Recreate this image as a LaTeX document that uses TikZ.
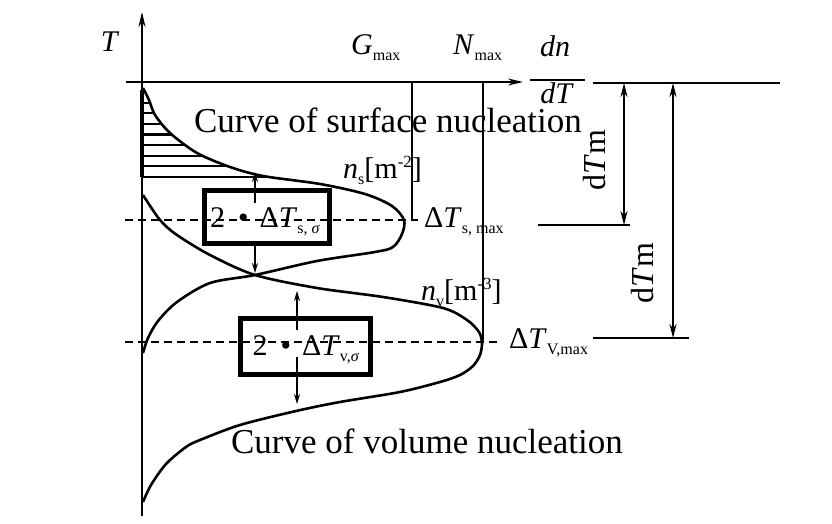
\documentclass[tikz,border=0pt]{standalone}
\usepackage{fontspec}
\setmainfont{Liberation Serif}
\usetikzlibrary{arrows.meta}
\newcommand{\lowtext}[1]{\raisebox{-6pt}{\fontsize{16}{18}\selectfont #1}}
\newcommand{\hightext}[1]{\raisebox{11pt}{\fontsize{17}{19}\selectfont #1}}
\newcommand{\symfont}{\fontsize{30}{34}\selectfont}

\begin{document}
\begin{tikzpicture}[x=1pt,y=-1pt,
  axis/.style={line width=2pt,-{Stealth[length=15pt,width=7pt]}},
  rule/.style={line width=2pt},
  curve/.style={line width=2.6pt},
  guide/.style={line width=1.6pt,dash pattern=on 8pt off 5pt},
  dim/.style={line width=2pt,{Stealth[length=14pt,width=7pt]}-{Stealth[length=14pt,width=7pt]}},
  arr/.style={line width=1.6pt,-{Stealth[length=10pt,width=6pt]}},
  frame/.style={draw,line width=5pt,inner sep=0pt},
  sym/.style={font=\symfont,inner sep=0pt},
  title/.style={font=\fontsize{35}{40}\selectfont,inner sep=0pt}]
  \useasboundingbox (0,0) rectangle (832,524);
  % axes
  \coordinate (Tbot) at (142,516);
  \coordinate (Ttop) at (142,12);
  \coordinate (xl)   at (126,82);
  \coordinate (xr)   at (523,82);
  \draw[axis] (Tbot) -- (Ttop);
  \draw[axis] (xl) -- (xr);
  \node[sym]                  (T)  at (110,42)  {\textit{T}};
  \node[sym,anchor=base west] (G)  at (351,55)  {\textit{G}\lowtext{max}};
  \node[sym,anchor=base west] (N)  at (453,55)  {\textit{N}\lowtext{max}};
  \node[sym,anchor=base]      (dn) at (555,57)  {\textit{dn}};
  \node[sym,anchor=base]      (dT) at (557,104) {\textit{dT}};
  \coordinate (barL) at (530,80);
  \coordinate (barR) at (585,80);
  \draw[rule] (barL) -- (barR);
  % hatched part under the surface curve
  \begin{scope}
    \clip plot[smooth] coordinates {(143,88) (149,100) (155,115) (170,133) (197,153) (230,167) (263,176) (320,184) (365,194) (392,206) (404,220) (402,234) (393,247) (375,252) (317,261) (255,275) (210,283) (177,302) (158,321) (148,338) (143,353)} -- cycle;
    \foreach \y in {103,113.5,...,177}
      \draw[rule] (130,\y) -- (320,\y);
  \end{scope}
  \draw[line width=4pt] (142,90) -- (142,177);
  % the two curves
  \draw[curve] plot[smooth] coordinates {(143,88) (149,100) (155,115) (170,133) (197,153) (230,167) (263,176) (320,184) (365,194) (392,206) (404,220) (402,234) (393,247) (375,252) (317,261) (255,275) (210,283) (177,302) (158,321) (148,338) (143,353)};
  \draw[curve] plot[smooth] coordinates {(143,195) (160,220) (177,235) (210,255) (255,275) (317,288) (383,297) (443,308) (467,320) (479,332) (482,343) (480,355) (473,366) (460,375) (440,382) (400,392) (340,402) (296,411) (240,425) (200,440) (186,447) (166,464) (151,485) (143,502)};
  \node[title,anchor=base] (surf) at (388,132) {Curve of surface nucleation};
  \node[title,anchor=base] (vol)  at (427,453) {Curve of volume nucleation};
  % maxima
  \coordinate (Gtop) at (412,82);
  \coordinate (Gbot) at (412,220);
  \coordinate (Gend) at (418,220);
  \coordinate (Ntop) at (483,82);
  \coordinate (Nbot) at (483,342);
  \draw[rule] (Gtop) -- (Gbot) -- (Gend);
  \draw[rule] (Ntop) -- (Nbot);
  \coordinate (sL) at (125,220);
  \coordinate (vL) at (125,342);
  \coordinate (vR) at (497,342);
  \draw[guide] (sL) -- (Gend);
  \draw[guide] (vL) -- (vR);
  \node[sym,anchor=base west] (ns)  at (343,178) {\textit{n}\lowtext{s}[m\hightext{-2}]};
  \node[sym,anchor=base west] (nv)  at (421,300) {\textit{n}\lowtext{v}[m\hightext{-3}]};
  \node[sym,anchor=base west] (dTs) at (424,227) {Δ\textit{T}\lowtext{s, max}};
  \node[sym,anchor=base west] (dTv) at (509,348) {Δ\textit{T}\lowtext{V,max}};
  % boxes with their spread arrows
  \node[frame,minimum width=125pt,minimum height=53pt] (boxS) at (267,217) {};
  \node[frame,minimum width=130pt,minimum height=56pt] (boxV) at (305.5,346.5) {};
  \node[sym,anchor=base] (sigS) at (265,227) {2\hspace{13pt}•\hspace{11pt}Δ\textit{T}\lowtext{s, \textit{σ}}};
  \node[sym,anchor=base] (sigV) at (306,355) {2\hspace{13pt}•\hspace{11pt}Δ\textit{T}\lowtext{v,\textit{σ}}};
  \coordinate (sU1) at (255,203);
  \coordinate (sU2) at (255,172);
  \coordinate (sD1) at (255,246);
  \coordinate (sD2) at (255,273);
  \coordinate (vU1) at (297,330);
  \coordinate (vU2) at (297,291);
  \coordinate (vD1) at (297,357);
  \coordinate (vD2) at (297,404);
  \draw[arr] (sU1) -- (sU2);
  \draw[arr] (sD1) -- (sD2);
  \draw[arr] (vU1) -- (vU2);
  \draw[arr] (vD1) -- (vD2);
  % right-hand side: distances dTm
  \coordinate (r1a) at (593,83);
  \coordinate (r1b) at (780,83);
  \coordinate (r2a) at (538,225);
  \coordinate (r2b) at (630,225);
  \coordinate (r3a) at (593,338);
  \coordinate (r3b) at (689,338);
  \draw[rule] (r1a) -- (r1b);
  \draw[rule] (r2a) -- (r2b);
  \draw[rule] (r3a) -- (r3b);
  \coordinate (m1a) at (624,83);
  \coordinate (m1b) at (624,225);
  \coordinate (m2a) at (673,83);
  \coordinate (m2b) at (673,338);
  \draw[dim] (m1a) -- (m1b);
  \draw[dim] (m2a) -- (m2b);
  \node[font=\fontsize{32}{36}\selectfont,rotate=90,inner sep=0pt] (dTm1) at (595,160) {d\textit{T}m};
  \node[font=\fontsize{32}{36}\selectfont,rotate=90,inner sep=0pt] (dTm2) at (643,273) {d\textit{T}m};
\end{tikzpicture}
\end{document}
